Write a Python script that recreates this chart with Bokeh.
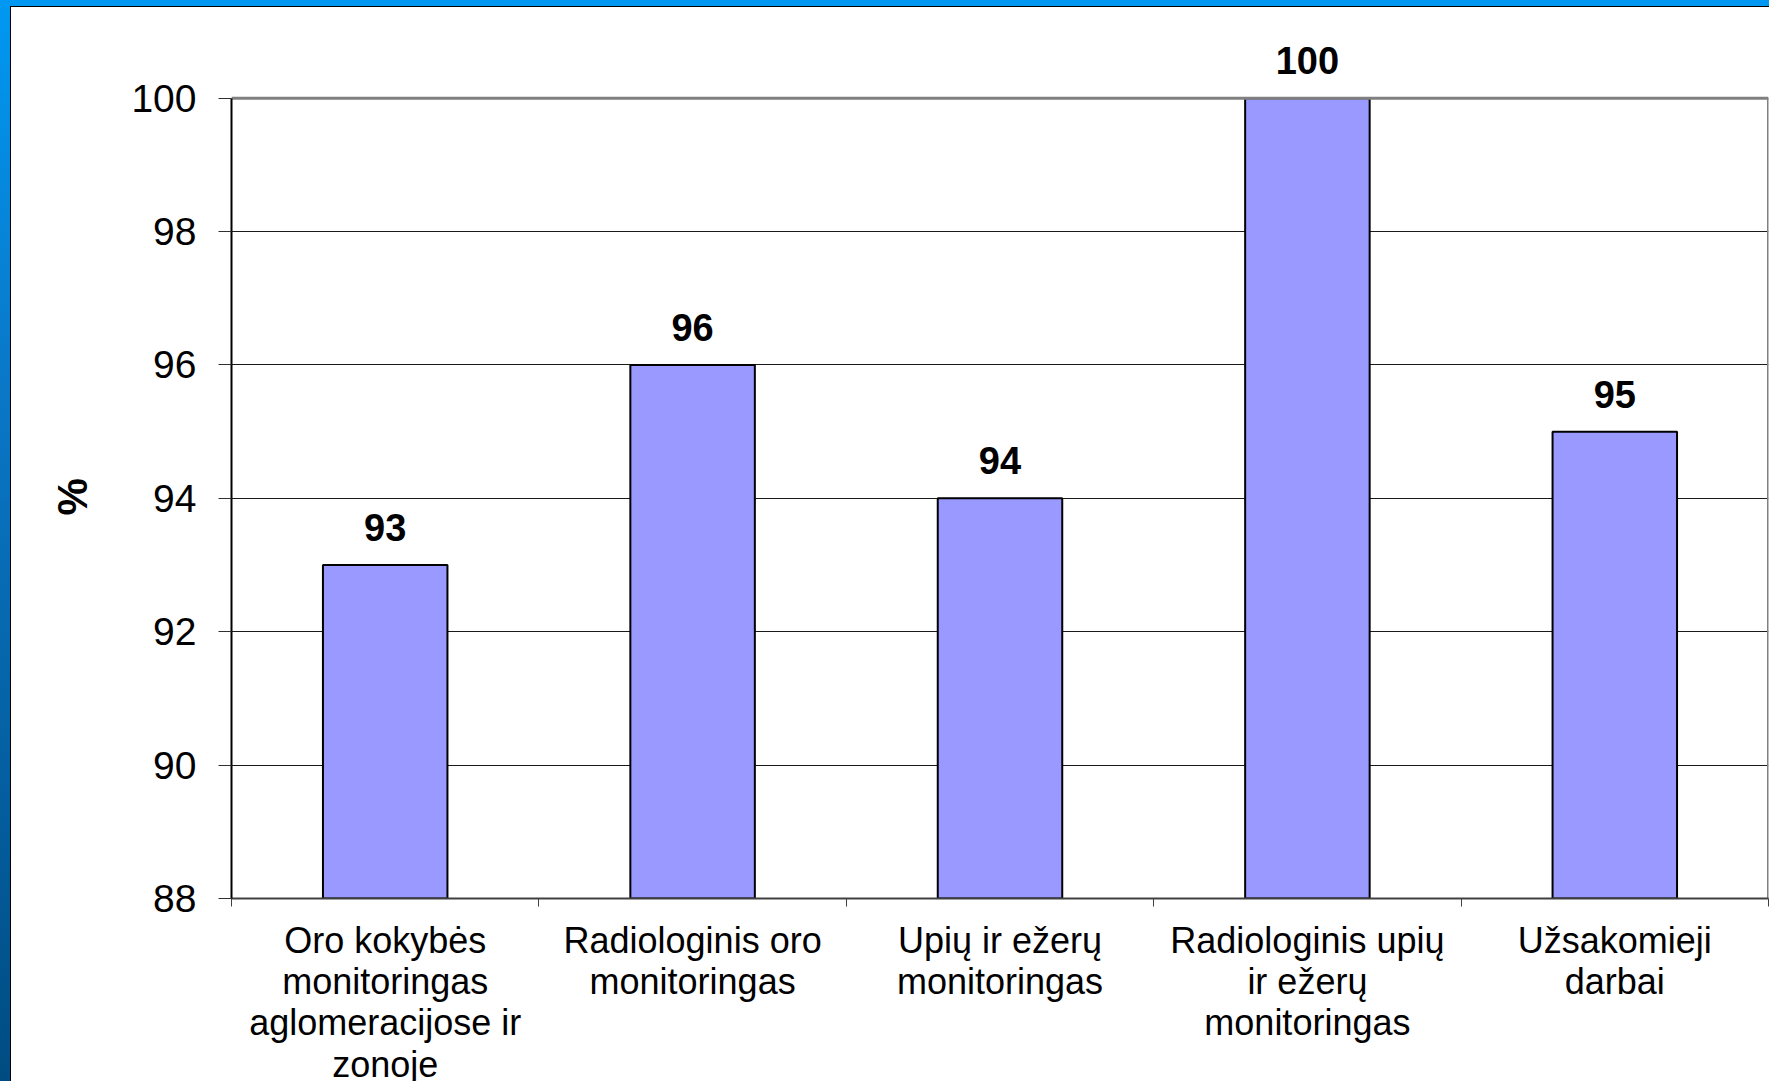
from bokeh.plotting import figure
from bokeh.models import Range1d, FixedTicker, LabelSet, ColumnDataSource, Title
from bokeh.core.properties import value
from bokeh.embed import file_html
from bokeh.resources import INLINE

# ---- data ----
categories = [
    "Oro kokybės\nmonitoringas\naglomeracijose ir\nzonoje",
    "Radiologinis oro\nmonitoringas",
    "Upių ir ežerų\nmonitoringas",
    "Radiologinis upių\nir ežerų\nmonitoringas",
    "Užsakomieji\ndarbai",
]
values = [93, 96, 94, 100, 95]
y_ticks = [88, 90, 92, 94, 96, 98, 100]
y_label = "%"

n = len(categories)
positions = [i + 0.5 for i in range(n)]
boundaries = list(range(n + 1))
y_min, y_max = y_ticks[0], y_ticks[-1]

src = ColumnDataSource(dict(
    x=positions,
    top=values,
    bottom=[y_min] * n,
    label=[str(v) for v in values],
))

FONT = "Liberation Sans"

p = figure(
    width=1769, height=1081,
    output_backend="svg", toolbar_location=None,
    x_range=Range1d(0, n), y_range=Range1d(y_min, y_max + 1.06),
    min_border_left=220, min_border_right=12,
    min_border_top=20, min_border_bottom=190,
)
# slide frame (blue band on the top and left edge, thin black inner line)
p.styles = {
    "padding-left": "11px",
    "padding-top": "7px",
    "background": "linear-gradient(white, white) 11px 7px / 100% 100% no-repeat, "
                  "linear-gradient(black, black) 10px 6px / 100% 100% no-repeat, "
                  "linear-gradient(to bottom, #0098F2 0%, #0A78C8 35%, #004C82 100%)",
}
p.background_fill_color = "white"
p.border_fill_color = "white"
p.outline_line_color = None

p.vbar(x="x", top="top", bottom="bottom", width=0.405, source=src,
       fill_color="#9999FF", line_color="black", line_width=2)

# plot-area border (top and right), gray like the source chart
p.segment(x0=[0, n], y0=[y_max, y_min], x1=[n, n], y1=[y_max, y_max],
          line_color="#808080", line_width=3)

# x axis: tick marks at category boundaries, labels at centers
xa = p.xaxis[0]
xa.ticker = FixedTicker(ticks=positions, minor_ticks=boundaries)
xa.major_label_overrides = {pos: cat for pos, cat in zip(positions, categories)}
xa.major_label_text_font = FONT
xa.major_label_text_font_size = "36px"
xa.major_label_text_color = "black"
xa.major_label_text_line_height = 1.01
xa.major_label_standoff = 13
xa.major_tick_out = 0
xa.major_tick_in = 0
xa.minor_tick_out = 8
xa.minor_tick_in = 0
xa.minor_tick_line_color = "#404040"
xa.minor_tick_line_width = 1
xa.axis_line_color = "#404040"
xa.axis_line_width = 2

ya = p.yaxis[0]
ya.ticker = FixedTicker(ticks=y_ticks, minor_ticks=[])
ya.bounds = (y_min, y_max)
ya.major_label_text_font = FONT
ya.major_label_text_font_size = "39px"
ya.major_label_text_color = "black"
ya.major_tick_out = 13
ya.major_tick_in = 0
ya.major_tick_line_color = "#303030"
ya.major_label_standoff = 22
ya.axis_line_color = "black"
ya.axis_line_width = 2

# "%" axis title, centred on the 88..100 part of the axis
ytitle = Title(text=y_label, align="left", vertical_align="bottom",
               offset=383, standoff=66,
               text_font=FONT, text_font_style="bold",
               text_font_size="42px", text_color="black")
p.add_layout(ytitle, "left")

p.xgrid.visible = False
p.ygrid.ticker = FixedTicker(ticks=y_ticks, minor_ticks=[])
p.ygrid.grid_line_color = "#1a1a1a"
p.ygrid.grid_line_width = 1

vals = LabelSet(x="x", y="top", text="label", source=src,
                text_align="center", text_baseline="alphabetic", y_offset=24,
                text_font=value(FONT), text_font_style="bold",
                text_font_size="38px", text_color="black")
p.add_layout(vals)

open("out.html", "w").write(file_html(p, INLINE))
